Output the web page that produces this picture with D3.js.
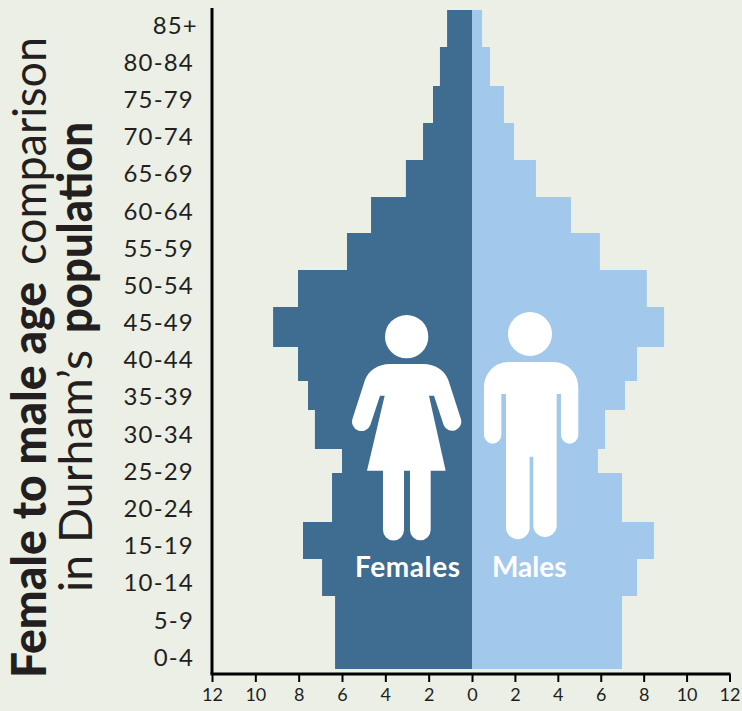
<!DOCTYPE html>
<html><head><meta charset="utf-8">
<script src="https://cdn.jsdelivr.net/npm/d3@7/dist/d3.min.js"></script>
<style>
html,body{margin:0;padding:0;background:#ecefe6;overflow:hidden}
svg{display:block}
text{font-family:Lato,sans-serif}
</style></head><body><svg id="c" width="742" height="711"></svg>
<script>
const ageGroups=["85+","80-84","75-79","70-74","65-69","60-64","55-59","50-54","45-49","40-44","35-39","30-34","25-29","20-24","15-19","10-14","5-9","0-4"];
const females=[1.15,1.48,1.8,2.26,3.05,4.66,5.77,8.03,9.18,8.03,7.57,7.25,6,6.46,7.8,6.92,6.32,6.32];
const males=[0.47,0.84,1.49,1.96,2.98,4.61,5.96,8.15,8.95,7.69,7.13,6.2,5.87,6.99,8.48,7.69,6.99,6.99];
const xTicks=[-12,-10,-8,-6,-4,-2,0,2,4,6,8,10,12];

const svg=d3.select("#c");
const x=d3.scaleLinear().domain([-12,0,12]).range([212,472,729.5]);
// the reference's rows are slightly uneven, so the row scale is piecewise
const yBar=d3.scaleLinear().domain(d3.range(19))
 .range([10,47,86,123,160,197,233,270,307,347,381,410,449,473,522,559,596,633,669]);
const yLab=d3.scalePoint().domain(ageGroups).range([25.5,657.5]);
const dark="#3f6d92",light="#a2c9ec",ink="#231f20";

svg.append("g").selectAll("rect").data(ageGroups).join("rect")
 .attr("x",(d,i)=>x(-females[i])).attr("y",(d,i)=>yBar(i))
 .attr("width",(d,i)=>x(0)-x(-females[i])).attr("height",(d,i)=>yBar(i+1)-yBar(i)).attr("fill",dark);
svg.append("g").selectAll("rect").data(ageGroups).join("rect")
 .attr("x",x(0)).attr("y",(d,i)=>yBar(i))
 .attr("width",(d,i)=>x(males[i])-x(0)).attr("height",(d,i)=>yBar(i+1)-yBar(i)).attr("fill",light);

// axes
const ax=svg.append("g").attr("transform","translate(0,674)")
 .call(d3.axisBottom(x).tickValues(xTicks).tickFormat(d=>Math.abs(d)).tickSizeOuter(0).tickSize(8).tickPadding(6));
ax.select(".domain").attr("stroke","#000").attr("stroke-width",3).attr("d",`M${x(-12)-1.5},0H${x(12)+1}`);
ax.selectAll(".tick line").attr("stroke","#000").attr("stroke-width",2);
ax.selectAll("text").attr("font-size",18).attr("fill",ink).style("font-family","Lato,sans-serif");

const ay=svg.append("g").attr("transform",`translate(${x(-12)},0)`)
 .call(d3.axisLeft(yLab).tickSize(0).tickPadding(18));
ay.select(".domain").attr("stroke","#000").attr("stroke-width",3).attr("d","M0,8V674");
ay.selectAll("text").attr("font-size",24).attr("letter-spacing",1.2).attr("fill",ink).style("font-family","Lato,sans-serif")
 .attr("dx",d=>d==="85+"?"4":"0");

// title: one rotated text per run, fitted to the reference's run lengths
const title=[
 {s:"Female to male age",w:900,b:46,y:678,len:396},
 {s:"comparison",w:400,b:46,y:265,len:228},
 {s:"in Durham\u2019s",w:400,b:92,y:592,len:242},
 {s:"population",w:900,b:92,y:333,len:211}];
svg.append("g").attr("font-size",47).attr("fill",ink).selectAll("text").data(title).join("text")
 .attr("transform",d=>`translate(${d.b},${d.y}) rotate(-90)`)
 .attr("font-weight",d=>d.w).attr("textLength",d=>d.len).attr("lengthAdjust","spacingAndGlyphs")
 .text(d=>d.s);

// figures
const fig=svg.append("g").attr("transform","translate(340,300) scale(0.3333)").attr("fill","#fff");
fig.append("circle").attr("cx",200).attr("cy",110).attr("r",65);
fig.append("path").attr("d","M150,192H250C285,192 315,212 325,240L362,355A27,27 0 0 1 311,375L282,287H267L317,512H272V690A31,31 0 0 1 210,690V512H192V690A31,31 0 0 1 129,690V512H81L134,287H120L91,375A27,27 0 0 1 38,355L75,240C85,212 115,192 150,192Z");
fig.append("circle").attr("cx",570).attr("cy",102).attr("r",66);
fig.append("path").attr("d","M505,186H640C682,186 715,220 715,262V405A26,26 0 0 1 663,405V282H650V682A35.5,35.5 0 0 1 580,682V470H569V682A35.5,35.5 0 0 1 498,682V282H484V405A26,26 0 0 1 432,405V262C432,220 465,186 505,186Z");

svg.append("text").attr("x",355).attr("y",576.5).attr("font-size",28).attr("font-weight",700).attr("letter-spacing",0.6).attr("fill","#fff").text("Females");
svg.append("text").attr("x",492).attr("y",577).attr("font-size",28).attr("font-weight",700).attr("fill","#fff").text("Males");
</script></body></html>
